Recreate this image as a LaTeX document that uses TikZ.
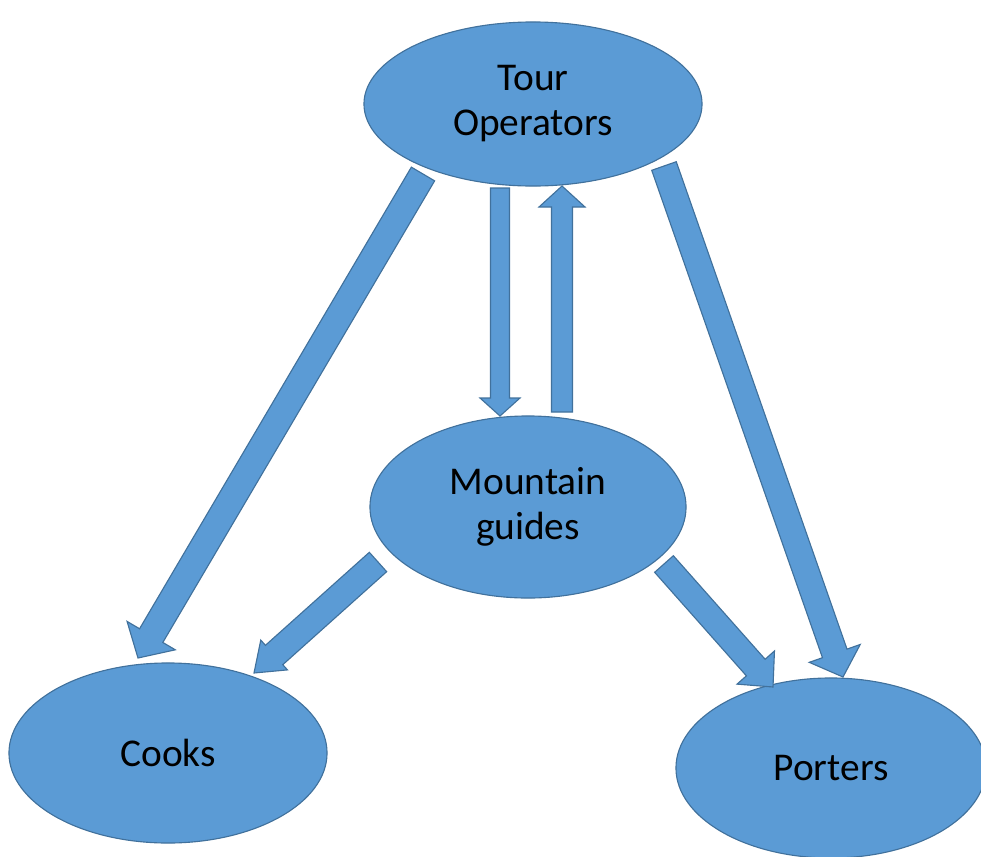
\documentclass[tikz,border=0pt]{standalone}
\usepackage{fontspec}
\setmainfont{Carlito}
\usetikzlibrary{shapes.geometric,calc}

\definecolor{fillblue}{HTML}{5B9BD5}
\definecolor{edgeblue}{HTML}{41719C}

\tikzset{
  bubble/.style={ellipse, draw=edgeblue, fill=fillblue, line width=0.8pt,
    inner sep=0pt, align=center, font=\fontsize{28}{32}\selectfont},
  blockarrow/.style={draw=edgeblue, fill=fillblue, line width=0.8pt,
    line join=miter}
}

% fat arrow: start, tip, half shaft, half head, head length (in px)
\newcommand{\fatarrow}[5]{%
  \coordinate (hb) at ($(#2)!#5*0.025cm!(#1)$);
  \draw[blockarrow] ($(#1)!#3*0.025cm!90:(#2)$)
    -- ($(hb)!#3*0.025cm!-90:(#1)$) -- ($(hb)!#4*0.025cm!-90:(#1)$)
    -- (#2)
    -- ($(hb)!#4*0.025cm!90:(#1)$) -- ($(hb)!#3*0.025cm!90:(#1)$)
    -- ($(#1)!#3*0.025cm!-90:(#2)$) -- cycle;
}

\begin{document}
\begin{tikzpicture}[x=0.025cm, y=-0.025cm]
    \useasboundingbox (0,0) rectangle (981,856);

    \node[bubble, minimum width=8.45cm, minimum height=4.1cm]
      (tour) at (533,104) {Tour\\Operators};
    \node[bubble, minimum width=7.9cm, minimum height=4.55cm]
      (guides) at (528,507) {Mountain\\guides};
    \node[bubble, minimum width=7.95cm, minimum height=4.5cm]
      (cooks) at (168,753) {Cooks};
    \node[bubble, minimum width=7.75cm, minimum height=4.5cm]
      (porters) at (831,768) {Porters};

    % arrow ends
    \coordinate (tgA) at (500,188);  \coordinate (tgB) at (500,416);
    \coordinate (gtA) at (562,412);  \coordinate (gtB) at (562,186);
    \coordinate (tcA) at (423,174);  \coordinate (tcB) at (138,658);
    \coordinate (tpA) at (664,166);  \coordinate (tpB) at (843,677);
    \coordinate (gcA) at (378,562);  \coordinate (gcB) at (254,673);
    \coordinate (gpA) at (664,564);  \coordinate (gpB) at (773,687);

    \fatarrow{tgA}{tgB}{9.5}{20}{18}
    \fatarrow{gtA}{gtB}{10.5}{23}{21}
    \fatarrow{tcA}{tcB}{13.5}{28}{26}
    \fatarrow{tpA}{tpB}{13}{27}{25}
    \fatarrow{gcA}{gcB}{13}{20}{27}
    \fatarrow{gpA}{gpB}{12.5}{25}{26}

\end{tikzpicture}
\end{document}
